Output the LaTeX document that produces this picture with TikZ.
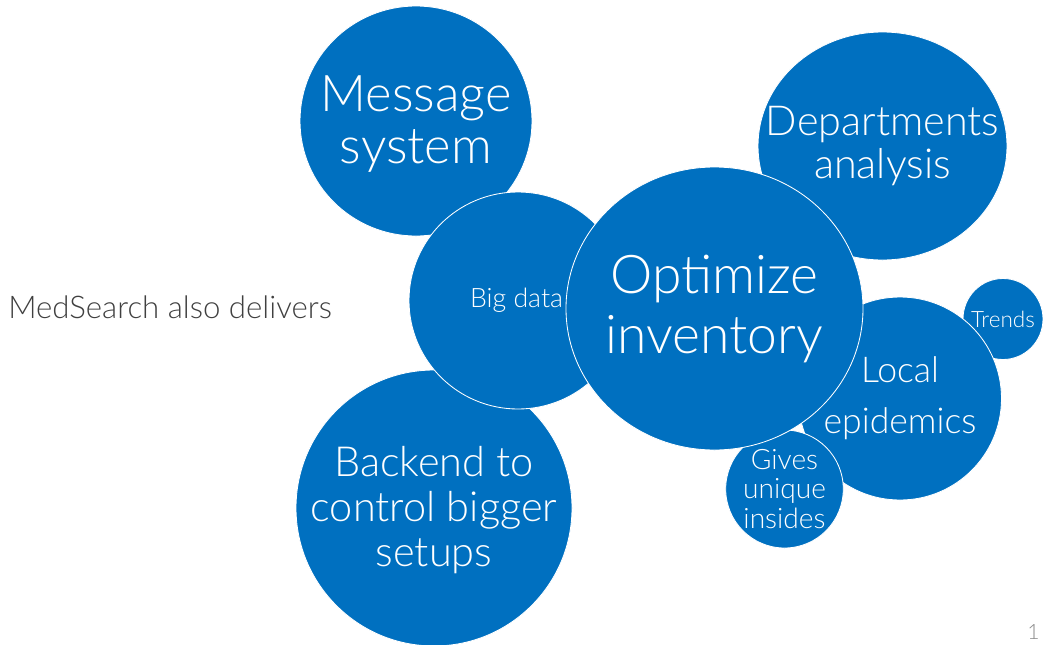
\documentclass[tikz,border=0pt]{standalone}
\usepackage{fontspec}
\setmainfont{Lato Light}
\usetikzlibrary{shapes.geometric}
\definecolor{bubbleblue}{RGB}{0,112,192}
\tikzset{bubble/.style={ellipse, fill=bubbleblue, draw=white, line width=0.6pt,
    inner sep=0pt},
  bubbletext/.style={text=white, align=center, inner sep=0pt}}

\begin{document}
\begin{tikzpicture}[x=0.25mm,y=-0.25mm]
\useasboundingbox (0,0) rectangle (1043,644);
\node[bubble, minimum width=58mm, minimum height=57.5mm] (A) at (416,121) {};
\node[bubbletext, font=\fontsize{36}{37}\selectfont] (a) at ([yshift=-2.5pt]A) {Message\\system};
\node[bubble, minimum width=62.25mm, minimum height=57mm] (B) at (882.5,146) {};
\node[bubbletext, font=\fontsize{29.4}{30.6}\selectfont] (b) at (B) {Departments\\analysis};
\node[bubble, minimum width=69mm, minimum height=69mm] (C) at (434,508) {};
\node[bubbletext, font=\fontsize{29.5}{31.7}\selectfont] (c) at ([yshift=-1.5pt]C) {Backend to\\control bigger\\setups};
\node[bubble, minimum width=54.5mm, minimum height=54.25mm] (D) at (518,300.5) {};
\node[bubbletext, font=\fontsize{19}{24}\selectfont] (d) at ([xshift=-1pt]D) {Big data};
\node[bubble, minimum width=20mm, minimum height=20.25mm] (E) at (1003,319) {};
\node[bubbletext, font=\fontsize{16}{18}\selectfont] (e) at (E) {Trends};
\node[bubble, minimum width=50.75mm, minimum height=50.75mm] (F) at (900,398.5) {};
\node[bubbletext, font=\fontsize{25.3}{36.3}\selectfont] (f) at (F) {Local\\epidemics};
\node[bubble, minimum width=29.4mm, minimum height=29.5mm] (G) at (784.5,489) {};
\node[bubbletext, font=\fontsize{20}{21}\selectfont] (g) at (G) {Gives\\unique\\insides};
\node[bubble, minimum width=74.25mm, minimum height=70.75mm] (H) at (714.5,308.5) {};
\node[bubbletext, font=\fontsize{38}{42.7}\selectfont] (h) at (H) {Optimize\\inventory};
\node[anchor=base west, inner sep=0pt, text=black!75,
    font=\fontsize{22.2}{26}\selectfont] (I) at (8,318) {MedSearch also delivers};
\node[anchor=base east, inner sep=0pt, text=black!45,
    font=\fontsize{15}{18}\selectfont] (J) at (1040,639) {1};
\end{tikzpicture}
\end{document}
